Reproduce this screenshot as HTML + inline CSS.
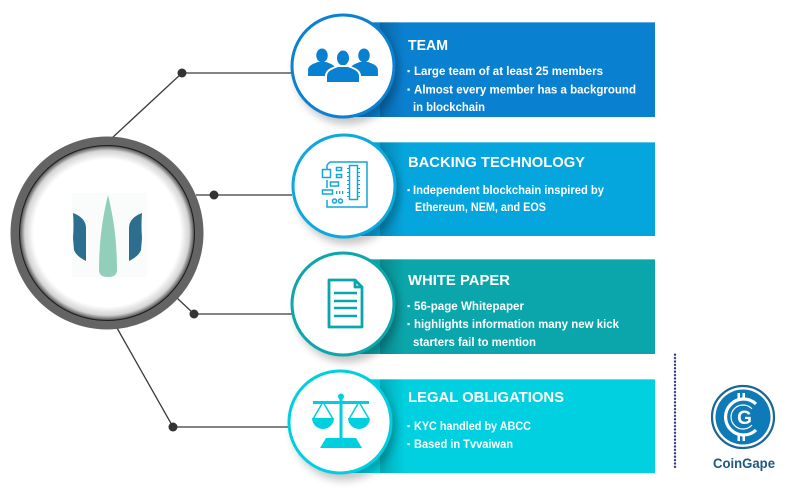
<!DOCTYPE html>
<html><head><meta charset="utf-8"><style>
html,body{margin:0;padding:0;background:#fff;}
svg{display:block;}
text{font-family:"Liberation Sans",Arial,sans-serif;}
</style></head><body>
<svg width="800" height="500" viewBox="0 0 800 500" xmlns="http://www.w3.org/2000/svg">
<defs>
<filter id="sh" x="-30%" y="-30%" width="160%" height="160%">
<feDropShadow dx="4" dy="6" stdDeviation="4" flood-color="#000" flood-opacity="0.22"/>
</filter>
<radialGradient id="inner" cx="0.5" cy="0.5" r="0.5">
<stop offset="0" stop-color="#fff"/>
<stop offset="0.84" stop-color="#fff"/>
<stop offset="0.94" stop-color="#d4d4d4"/>
<stop offset="1" stop-color="#4a4a4a"/>
</radialGradient>
<linearGradient id="bshade" x1="0" x2="1" y1="0" y2="0">
<stop offset="0" stop-color="#000" stop-opacity="0.18"/>
<stop offset="1" stop-color="#000" stop-opacity="0"/>
</linearGradient>
<pattern id="dots" x="673" y="353" width="4" height="3.4" patternUnits="userSpaceOnUse">
<circle cx="2" cy="1.7" r="1.2" fill="#2c3b78"/>
</pattern>
</defs>

<!-- connectors -->
<g stroke="#3a3a3a" stroke-width="1.3" fill="none">
<polyline points="112,138 182,73 292,73"/>
<polyline points="196,195 292,195"/>
<polyline points="177,298 194,314 292,314"/>
<polyline points="117,328 173,427 290,427"/>
</g>
<g fill="#333">
<circle cx="182" cy="73" r="4.5"/>
<circle cx="214" cy="195" r="4.5"/>
<circle cx="194" cy="314" r="4.5"/>
<circle cx="173" cy="427" r="4.5"/>
</g>

<!-- big left circle -->
<circle cx="107" cy="233" r="96.5" fill="#646464"/>
<circle cx="107" cy="233" r="87.5" fill="url(#inner)"/>
<circle cx="107" cy="233" r="87.5" fill="none" stroke="#1e1e1e" stroke-width="1"/>
<rect x="72" y="193" width="75" height="84" fill="#fafcfc"/>
<path d="M108,195 C113,215 117,240 117,270 Q117,277 108,277 Q99,277 99,270 C99,240 103,215 108,195 Z" fill="#91cfbb"/>
<path d="M73,213 Q86,218 86,228 L86,261 Q76,256 74,250 L73,238 Q74,225 73,213 Z" fill="#2b6e8e"/>
<path d="M142,213 Q129,218 129,228 L129,261 Q139,256 141,250 L142,238 Q141,225 142,213 Z" fill="#2b6e8e"/>

<!-- banners -->
<rect x="345" y="22" width="310" height="95" fill="#0a80d0"/>
<rect x="345" y="142" width="310" height="94" fill="#05a6dd"/>
<rect x="345" y="259" width="310" height="95" fill="#0aa6ab"/>
<rect x="345" y="379" width="310" height="94" fill="#00d0e0"/>
<g fill="url(#bshade)">
<rect x="380" y="22" width="25" height="95"/>
<rect x="380" y="142" width="25" height="94"/>
<rect x="380" y="259" width="25" height="95"/>
<rect x="380" y="379" width="25" height="94"/>
</g>
<g fill="#fff" opacity="0.35">
<rect x="345" y="22" width="310" height="1"/>
<rect x="345" y="142" width="310" height="1"/>
<rect x="345" y="259" width="310" height="1"/>
<rect x="345" y="379" width="310" height="1"/>
</g>

<!-- icon circles -->
<g filter="url(#sh)">
<circle cx="343" cy="66" r="51" fill="#fff" stroke="#0a80d0" stroke-width="3"/>
<circle cx="344" cy="186" r="51" fill="#fff" stroke="#0aa8dd" stroke-width="3"/>
<circle cx="343" cy="304" r="51" fill="#fff" stroke="#0aa6ab" stroke-width="3"/>
<circle cx="340" cy="422" r="51" fill="#fff" stroke="#00cfe0" stroke-width="3"/>
</g>

<!-- team icon -->
<g fill="#0a80d0">
<g transform="translate(322,62) scale(0.82)">
<ellipse cx="0" cy="-8" rx="7" ry="8.5"/>
<path d="M-17,17 V10 C-17,4 -10,2 -5,0 L5,0 C10,2 17,4 17,10 V17 Z"/>
</g>
<g transform="translate(364,62) scale(0.82)">
<ellipse cx="0" cy="-8" rx="7" ry="8.5"/>
<path d="M-17,17 V10 C-17,4 -10,2 -5,0 L5,0 C10,2 17,4 17,10 V17 Z"/>
</g>
<g transform="translate(343,66)" stroke="#fff" stroke-width="2">
<ellipse cx="0" cy="-8" rx="7" ry="8.5"/>
<path d="M-17,17 V10 C-17,4 -10,2 -5,0 L5,0 C10,2 17,4 17,10 V17 Z"/>
</g>
</g>

<!-- pcb icon -->
<g fill="none" stroke="#12a6dc" stroke-width="1.5">
<path d="M330,162 H367 V207 H327 V200 M327,188 V180 M327,170 V165 Z"/>
<path d="M327,165 L330,162"/>
<rect x="349.5" y="165.5" width="8" height="34"/>
<rect x="322.5" y="169.5" width="8" height="8"/>
<rect x="336.5" y="167.5" width="5" height="3"/>
<rect x="336.5" y="174.5" width="5" height="3"/>
<rect x="330.5" y="182" width="8" height="4"/>
<rect x="322.5" y="190" width="10" height="4"/>
<circle cx="334.5" cy="201" r="2"/>
<circle cx="340.5" cy="201" r="2"/>
</g>
<g fill="#12a6dc">
<rect x="336" y="191" width="1.3" height="3"/>
<rect x="339" y="191" width="1.3" height="3"/>
<rect x="342" y="191" width="1.3" height="3"/>
<rect x="358" y="168" width="2" height="1"/><rect x="358" y="172" width="2" height="1"/><rect x="358" y="176" width="2" height="1"/><rect x="358" y="180" width="2" height="1"/><rect x="358" y="184" width="2" height="1"/><rect x="358" y="188" width="2" height="1"/><rect x="358" y="192" width="2" height="1"/><rect x="358" y="196" width="2" height="1"/>
<rect x="347" y="168" width="2" height="1"/><rect x="347" y="172" width="2" height="1"/><rect x="347" y="176" width="2" height="1"/><rect x="347" y="180" width="2" height="1"/><rect x="347" y="184" width="2" height="1"/><rect x="347" y="188" width="2" height="1"/><rect x="347" y="192" width="2" height="1"/><rect x="347" y="196" width="2" height="1"/>
</g>

<!-- doc icon -->
<g fill="none" stroke="#0aa6ab" stroke-width="2.8" stroke-linejoin="round">
<path d="M329,280 H355 L362,287 V327 H329 Z"/>
<path d="M355,280 V287 H362"/>
</g>
<g stroke="#0aa6ab" stroke-width="2.6">
<line x1="334" y1="293" x2="357" y2="293"/>
<line x1="334" y1="301" x2="357" y2="301"/>
<line x1="334" y1="308" x2="357" y2="308"/>
<line x1="334" y1="316" x2="357" y2="316"/>
</g>

<!-- scale icon -->
<g fill="#00cfe0">
<circle cx="341" cy="396.5" r="3"/>
<rect x="339.5" y="399" width="3" height="40"/>
<path d="M313,401 H369 V404 H313 Z"/>
<path d="M312,418 H334 A11,11 0 0 1 312,418 Z"/>
<path d="M348,418 H370 A11,11 0 0 1 348,418 Z"/>
<path d="M326,438 H356 L362,448 H320 Z"/>
</g>
<g fill="none" stroke="#00cfe0" stroke-width="1.5">
<path d="M313,419 L323,402 L333,419"/>
<path d="M349,419 L359,402 L369,419"/>
</g>

<!-- texts -->
<g fill="#fff" font-weight="bold">
<text x="408" y="50" font-size="15" textLength="40" lengthAdjust="spacingAndGlyphs">TEAM</text>
<text x="408" y="167" font-size="15" textLength="177" lengthAdjust="spacingAndGlyphs">BACKING TECHNOLOGY</text>
<text x="408" y="285" font-size="15" textLength="102" lengthAdjust="spacingAndGlyphs">WHITE PAPER</text>
<text x="408" y="402" font-size="15" textLength="156" lengthAdjust="spacingAndGlyphs">LEGAL OBLIGATIONS</text>
</g>
<g fill="#fff" font-size="11.5" font-weight="bold">
<text x="414" y="75" textLength="189" lengthAdjust="spacingAndGlyphs">Large team of at least 25 members</text>
<text x="414" y="93.5" textLength="222" lengthAdjust="spacingAndGlyphs">Almost every member has a background</text>
<text x="413" y="111" textLength="72" lengthAdjust="spacingAndGlyphs">in blockchain</text>
<text x="413" y="194" textLength="191" lengthAdjust="spacingAndGlyphs">Independent blockchain inspired by</text>
<text x="415" y="211" textLength="131" lengthAdjust="spacingAndGlyphs">Ethereum, NEM, and EOS</text>
<text x="414" y="310" textLength="110" lengthAdjust="spacingAndGlyphs">56-page Whitepaper</text>
<text x="414" y="328" textLength="205" lengthAdjust="spacingAndGlyphs">highlights information many new kick</text>
<text x="413" y="346" textLength="123" lengthAdjust="spacingAndGlyphs">starters fail to mention</text>
<text x="414" y="430" textLength="117" lengthAdjust="spacingAndGlyphs">KYC handled by ABCC</text>
<text x="414" y="448" textLength="99" lengthAdjust="spacingAndGlyphs">Based in Tvvaiwan</text>
</g>
<g fill="#fff">
<rect x="407.5" y="70" width="2.2" height="2.2"/>
<rect x="407.5" y="88.5" width="2.2" height="2.2"/>
<rect x="407.5" y="189" width="2.2" height="2.2"/>
<rect x="407.5" y="305" width="2.2" height="2.2"/>
<rect x="407.5" y="323" width="2.2" height="2.2"/>
<rect x="407.5" y="425" width="2.2" height="2.2"/>
<rect x="407.5" y="443" width="2.2" height="2.2"/>
</g>

<!-- dotted line -->
<rect x="673" y="353" width="4" height="116" fill="url(#dots)"/>

<!-- coingape logo -->
<circle cx="743" cy="417" r="31" fill="none" stroke="#1d6593" stroke-width="2.2"/>
<circle cx="743" cy="417" r="27.5" fill="#0e7ab7"/>
<path d="M756,404 A18,18 0 1 0 756,430" fill="none" stroke="#fff" stroke-width="3.2"/>
<path d="M752,409 A12,12 0 1 0 752,425" fill="none" stroke="#fff" stroke-width="1.2"/>
<text x="744.5" y="424" font-size="19" font-weight="bold" fill="#fff" text-anchor="middle">G</text>
<g fill="#fff">
<rect x="737.5" y="393" width="2.5" height="7"/>
<rect x="742.5" y="393" width="2.5" height="7"/>
<rect x="737.5" y="434" width="2.5" height="7"/>
<rect x="742.5" y="434" width="2.5" height="7"/>
</g>
<text x="744" y="468" font-size="14" font-weight="bold" fill="#1e5a7e" text-anchor="middle" textLength="62" lengthAdjust="spacingAndGlyphs">CoinGape</text>
</svg>
</body></html>
